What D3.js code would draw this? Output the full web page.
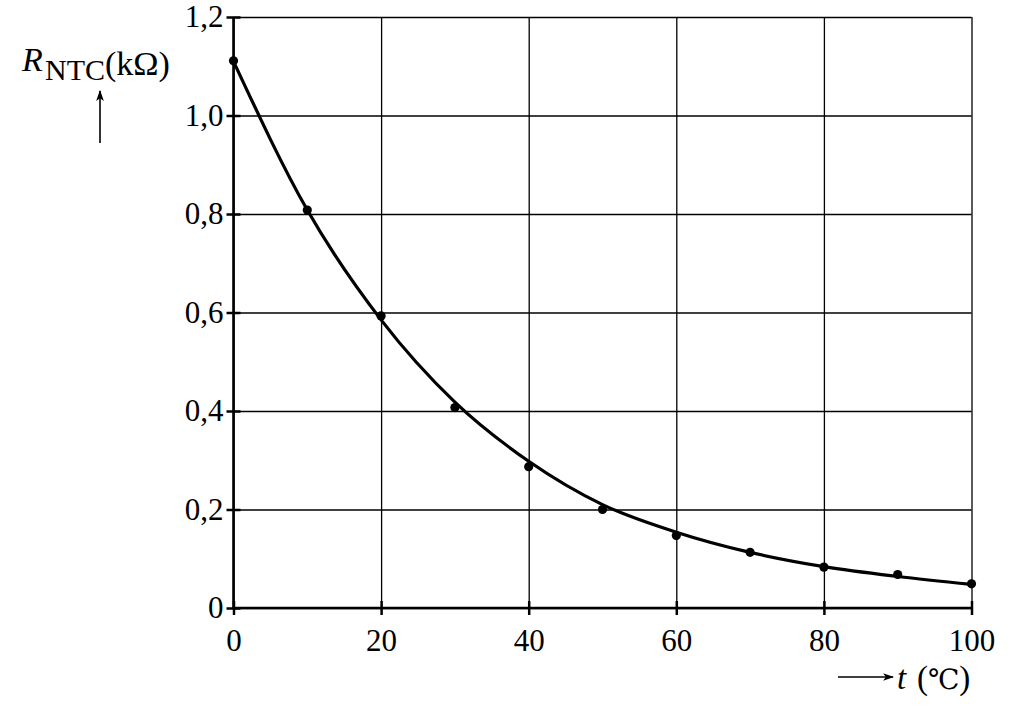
<!doctype html>
<html lang="de">
<head>
    <meta charset="UTF-8">
    <title>NTC Widerstand</title>
    <script src="https://cdn.jsdelivr.net/npm/d3@7/dist/d3.min.js"></script>
    <style>
        body { margin: 0; background: #fff; }
        svg { display: block; }
        text { font-family: "Liberation Serif", "Times New Roman", serif; fill: #000; }
    </style>
</head>
<body>
<script>
    // measured points (t in °C, R in kOhm)
    var temps = [0, 10, 20, 30, 40, 50, 60, 70, 80, 90, 100];
    var resist = [1.111, 0.808, 0.593, 0.407, 0.287, 0.200, 0.147, 0.113, 0.083, 0.068, 0.049];
    // fitted curve
    var curveT = [0, 10, 20, 30, 40, 50, 60, 70, 80, 90, 100];
    var curveR = [1.11, 0.808, 0.585, 0.418, 0.298, 0.210, 0.154, 0.113, 0.084, 0.064, 0.048];
    var xTicks = [0, 20, 40, 60, 80, 100];
    var yTicks = [0, 0.2, 0.4, 0.6, 0.8, 1.0, 1.2];

    var w = 1023, h = 719;
    var x0 = 233.5, x1 = 971.5, y0 = 608, y1 = 17;
    var tk = 7;

    var x = d3.scaleLinear().domain([0, 100]).range([x0, x1]);
    var y = d3.scaleLinear().domain([0, 1.2]).range([y0, y1]);
    var fmt = function (d) { return d3.format(".1f")(d).replace(".", ","); };

    var svg = d3.select("body").append("svg").attr("width", w).attr("height", h);

    // grid
    svg.append("g")
        .attr("transform", "translate(0," + y0 + ")")
        .call(d3.axisBottom(x).tickValues(xTicks).tickSize(-(y0 - y1)).tickFormat(""))
        .call(function (g) {
            g.select(".domain").remove();
            g.selectAll("line").attr("stroke", "#000").attr("stroke-width", 1.3);
        });
    svg.append("g")
        .attr("transform", "translate(" + x0 + ",0)")
        .call(d3.axisLeft(y).tickValues(yTicks).tickSize(-(x1 - x0)).tickFormat(""))
        .call(function (g) {
            g.select(".domain").remove();
            g.selectAll("line").attr("stroke", "#000").attr("stroke-width", 1.3);
        });

    // ticks crossing the axes + labels
    svg.append("g")
        .attr("transform", "translate(0," + (y0 - tk) + ")")
        .call(d3.axisBottom(x).tickValues(xTicks).tickSize(2 * tk).tickPadding(14)
            .tickFormat(function (d) { return d; }))
        .call(function (g) {
            g.select(".domain").remove();
            g.selectAll("line").attr("stroke", "#000").attr("stroke-width", 2.5);
            g.selectAll("text").attr("font-size", 31).attr("font-family", "Liberation Serif");
        });
    svg.append("g")
        .attr("transform", "translate(" + (x0 + tk) + ",0)")
        .call(d3.axisLeft(y).tickValues(yTicks).tickSize(2 * tk).tickPadding(3)
            .tickFormat(function (d) { return d === 0 ? "0" : fmt(d); }))
        .call(function (g) {
            g.select(".domain").remove();
            g.selectAll("line").attr("stroke", "#000").attr("stroke-width", 2.5);
            g.selectAll("text").attr("font-size", 31).attr("font-family", "Liberation Serif");
        });

    // main axes
    svg.append("line").attr("x1", x0).attr("x2", x0).attr("y1", y1).attr("y2", y0)
        .attr("stroke", "#000").attr("stroke-width", 2.6);
    svg.append("line").attr("x1", x0).attr("x2", x1).attr("y1", y0).attr("y2", y0)
        .attr("stroke", "#000").attr("stroke-width", 2.6);

    // curve
    var line = d3.line()
        .x(function (d) { return x(d[0]); })
        .y(function (d) { return y(d[1]); })
        .curve(d3.curveMonotoneX);
    svg.append("path")
        .datum(d3.zip(curveT, curveR))
        .attr("d", line)
        .attr("fill", "none")
        .attr("stroke", "#000")
        .attr("stroke-width", 3.2);

    // points
    svg.selectAll("circle.pt")
        .data(d3.zip(temps, resist))
        .enter()
        .append("circle")
        .attr("class", "pt")
        .attr("cx", function (d) { return x(d[0]); })
        .attr("cy", function (d) { return y(d[1]); })
        .attr("r", 4.6)
        .attr("fill", "#000");

    // arrows
    var defs = svg.append("defs");
    defs.append("marker")
        .attr("id", "arr")
        .attr("viewBox", "0 0 10 10")
        .attr("refX", 9).attr("refY", 5)
        .attr("markerWidth", 11).attr("markerHeight", 11)
        .attr("markerUnits", "userSpaceOnUse")
        .attr("orient", "auto")
        .append("path")
        .attr("d", "M0,1.5 L10,5 L0,8.5 L2.5,5 Z")
        .attr("fill", "#000");

    svg.append("line").attr("x1", 100).attr("x2", 100).attr("y1", 143).attr("y2", 91)
        .attr("stroke", "#000").attr("stroke-width", 1.6).attr("marker-end", "url(#arr)");
    svg.append("line").attr("x1", 838).attr("x2", 893).attr("y1", 677).attr("y2", 677)
        .attr("stroke", "#000").attr("stroke-width", 1.6).attr("marker-end", "url(#arr)");

    // y label
    var yl = svg.append("text").attr("font-size", 34);
    yl.append("tspan").attr("x", 22).attr("y", 71).attr("font-style", "italic").text("R");
    yl.append("tspan").attr("x", 45).attr("y", 80).attr("font-size", 30).text("NTC");
    yl.append("tspan").attr("x", 105).attr("y", 75).text("(kΩ)");

    // x label
    var xl = svg.append("text").attr("font-size", 33);
    xl.append("tspan").attr("x", 897).attr("y", 689).attr("font-style", "italic").text("t");
    xl.append("tspan").attr("x", 917).attr("y", 689).text("(");
    xl.append("tspan").attr("font-family", "DejaVu Serif").attr("font-size", 28).text("℃");
    xl.append("tspan").text(")");
</script>
</body>
</html>
